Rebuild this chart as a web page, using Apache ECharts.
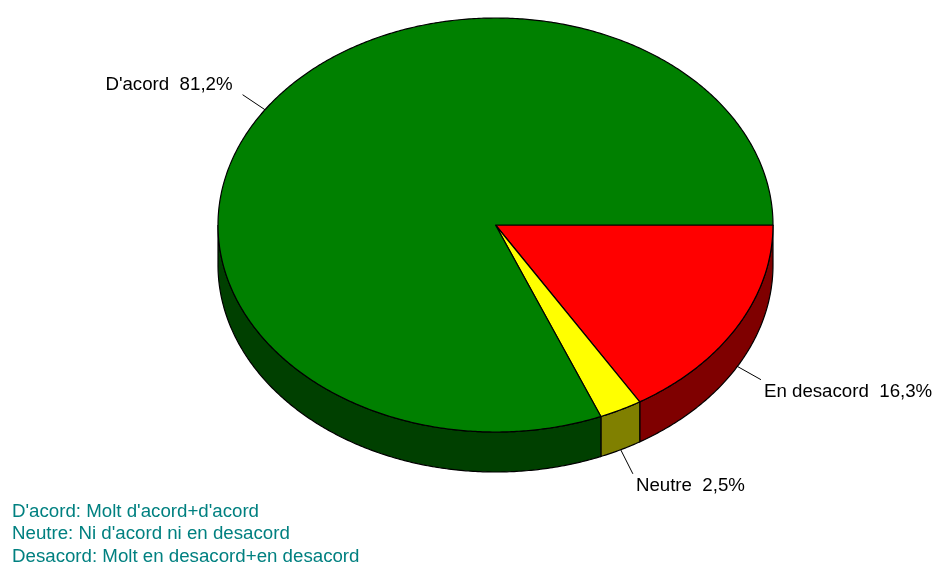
<!DOCTYPE html>
<html>
<head>
<meta charset="utf-8">
<script src="https://cdn.jsdelivr.net/npm/echarts@6/dist/echarts.min.js"></script>
<style>
  html, body { margin: 0; padding: 0; background: #fff; }
  #chart { width: 935px; height: 566px; }
</style>
</head>
<body>
<div id="chart"></div>
<script>
// Slices in drawing order, clockwise from 3 o'clock
const categories = ["En desacord", "Neutre", "D'acord"];
const values = [16.3, 2.5, 81.2];
const topColors = ['#ff0000', '#ffff00', '#008000'];
const sideColors = ['#7f0000', '#808000', '#004000'];
const notes = [
  "D'acord: Molt d'acord+d'acord",
  "Neutre: Ni d'acord ni en desacord",
  "Desacord: Molt en desacord+en desacord"
];

const total = values.reduce((a, b) => a + b, 0);
const starts = [];
let acc = 0;
values.forEach(v => { starts.push(acc); acc += v; });

// Tilted disc geometry
const CX = 495.5, CY = 225, RX = 277.5, RY = 207, DEPTH = 40;
const FONT = '18.7px "Liberation Sans", Arial, sans-serif';

function pt(t, dy) {
  return [CX + RX * Math.cos(t), CY + RY * Math.sin(t) + (dy || 0)];
}
function arc(a, b, dy) {
  const pts = [];
  const n = Math.max(2, Math.ceil((b - a) / (Math.PI / 360)));
  for (let i = 0; i <= n; i++) pts.push(pt(a + (b - a) * i / n, dy));
  return pts;
}
function fmt(v) { return v.toFixed(1).replace('.', ',') + '%'; }

function renderItem(params, api) {
  const i = params.dataIndex;
  const v = api.value(0);
  const a = starts[i] / total * Math.PI * 2;
  const b = a + v / total * Math.PI * 2;
  const children = [];

  // Visible front wall: the part of the slice between 0 and PI
  const s = Math.max(a, 0), e = Math.min(b, Math.PI);
  if (e > s) {
    const top = arc(s, e, 0);
    const bottom = arc(s, e, DEPTH).reverse();
    children.push({
      type: 'polygon',
      shape: { points: top.concat(bottom) },
      style: { fill: sideColors[i], stroke: '#000', lineWidth: 1.2 },
      z2: 1
    });
  }

  // Top face
  children.push({
    type: 'polygon',
    shape: { points: [[CX, CY]].concat(arc(a, b, 0)) },
    style: { fill: topColors[i], stroke: '#000', lineWidth: 1.2, lineJoin: 'round' },
    z2: 2
  });

  // Leader line and label
  const m = (a + b) / 2;
  const c = Math.cos(m), sn = Math.sin(m);
  const p0 = pt(m, sn > 0 ? DEPTH : 0);
  const L = 27;
  const p1 = [p0[0] + L * c, p0[1] + L * sn];
  children.push({
    type: 'line',
    shape: { x1: p0[0], y1: p0[1], x2: p1[0], y2: p1[1] },
    style: { stroke: '#000', lineWidth: 1 },
    z2: 3
  });
  const right = c >= 0;
  children.push({
    type: 'text',
    x: p1[0] + (right ? 3 : -10),
    y: p1[1] + (sn > 0 ? 12 : -10),
    style: {
      text: categories[i] + '  ' + fmt(v),
      fill: '#000',
      font: FONT,
      align: right ? 'left' : 'right',
      verticalAlign: 'middle'
    },
    z2: 3
  });

  return { type: 'group', children: children };
}

const chart = echarts.init(document.getElementById('chart'), null, { renderer: 'canvas' });
chart.setOption({
  backgroundColor: '#ffffff',
  animation: false,
  series: [{
    type: 'custom',
    coordinateSystem: 'none',
    renderItem: renderItem,
    data: values.map(v => [v])
  }],
  graphic: notes.map((t, k) => ({
    type: 'text',
    left: 12,
    top: 502 + k * 22.5,
    style: {
      text: t,
      fill: '#008080',
      font: FONT
    }
  }))
});
</script>
</body>
</html>
